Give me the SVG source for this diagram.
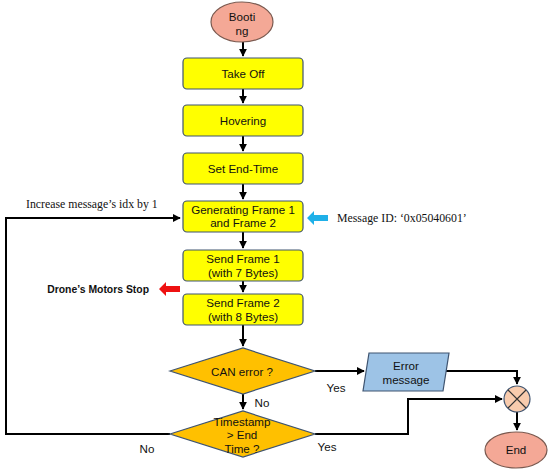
<svg xmlns="http://www.w3.org/2000/svg" width="550" height="474" viewBox="0 0 550 474">
<defs>
<marker id="ah" viewBox="0 0 10 10" refX="9" refY="5" markerWidth="4" markerHeight="4" orient="auto" markerUnits="strokeWidth">
<path d="M0,0 L10,5 L0,10 z" fill="#000"/>
</marker>
<style>
.box{fill:#FFFF00;stroke:#3F5470;stroke-width:1.2}
.dia{fill:#FFC000;stroke:#3F5470;stroke-width:1.2}
.term{fill:#F4A896;stroke:#7A5A50;stroke-width:1.2}
.t{font-family:"Liberation Sans",Arial,sans-serif;font-size:11.6px;fill:#111;text-anchor:middle}
.s{font-family:"Liberation Serif","Times New Roman",serif;font-size:11.8px;fill:#111}
.c{fill:none;stroke:#000;stroke-width:2}
</style>
</defs>
<rect width="550" height="474" fill="#fff"/>
<g id="connectors">
<path class="c" d="M243,42 V56" marker-end="url(#ah)"/>
<path class="c" d="M243,89 V103" marker-end="url(#ah)"/>
<path class="c" d="M243,136 V151" marker-end="url(#ah)"/>
<path class="c" d="M243,184 V199" marker-end="url(#ah)"/>
<path class="c" d="M243,232 V248" marker-end="url(#ah)"/>
<path class="c" d="M243,281 V292" marker-end="url(#ah)"/>
<path class="c" d="M243,325 V346" marker-end="url(#ah)"/>
<path class="c" d="M243,394 V409" marker-end="url(#ah)"/>
<path class="c" d="M315,371 H364" marker-end="url(#ah)"/>
<path class="c" d="M443,371 H517 V384" marker-end="url(#ah)"/>
<path class="c" d="M315,434 H408 V399 H502" marker-end="url(#ah)"/>
<path class="c" d="M517,412 V430" marker-end="url(#ah)"/>
<path class="c" d="M170,434 H6 V218 H180" marker-end="url(#ah)"/>
</g>
<g id="booting"><ellipse class="term" cx="242" cy="22" rx="31" ry="20"/><text class="t" x="242" y="21">Booti</text><text class="t" x="242" y="35">ng</text></g>
<g id="takeoff"><rect class="box" x="183" y="58" width="120" height="31" rx="4"/><text class="t" x="243" y="78">Take Off</text></g>
<g id="hovering"><rect class="box" x="183" y="105" width="120" height="31" rx="4"/><text class="t" x="243" y="125">Hovering</text></g>
<g id="setend"><rect class="box" x="183" y="153" width="120" height="31" rx="4"/><text class="t" x="243" y="173">Set End-Time</text></g>
<g id="generating"><rect class="box" x="183" y="201" width="120" height="31" rx="4"/><text class="t" x="243" y="214">Generating Frame 1</text><text class="t" x="243" y="227">and Frame 2</text></g>
<g id="send1"><rect class="box" x="183" y="250" width="120" height="31" rx="4"/><text class="t" x="243" y="263">Send Frame 1</text><text class="t" x="243" y="277">(with 7 Bytes)</text></g>
<g id="send2"><rect class="box" x="183" y="294" width="120" height="31" rx="4"/><text class="t" x="243" y="307">Send Frame 2</text><text class="t" x="243" y="321">(with 8 Bytes)</text></g>
<g id="canerror"><polygon class="dia" points="170,371 243,348 315,371 243,394"/><text class="t" x="242" y="376">CAN error ?</text></g>
<g id="timestamp"><polygon class="dia" points="170,434 243,411 315,434 243,457"/><text class="t" x="242" y="426">Timestamp</text><text class="t" x="242" y="439">&gt; End</text><text class="t" x="242" y="453">Time ?</text></g>
<g id="errormsg"><polygon points="369,353 449,353 443,391 363,391" fill="#9DC3E6" stroke="#3F5470" stroke-width="1.2"/><text class="t" x="406" y="370">Error</text><text class="t" x="406" y="384">message</text></g>
<g id="merge"><circle cx="517" cy="399" r="13" fill="#F8CBAD" stroke="#3F5470" stroke-width="1.2"/><path d="M508,390 L526,408 M526,390 L508,408" stroke="#333" stroke-width="1.2"/></g>
<g id="end"><ellipse class="term" cx="516" cy="450" rx="31" ry="18"/><text class="t" x="516" y="454">End</text></g>
<g id="labels">
<text class="t" x="262" y="407">No</text>
<text class="t" x="336" y="392">Yes</text>
<text class="t" x="327" y="451">Yes</text>
<text class="t" x="147" y="453">No</text>
<text class="s" x="26" y="208">Increase message’s idx by 1</text>
<text class="s" x="337" y="222">Message ID: ‘0x05040601’</text>
<text x="149" y="293" font-family="'Liberation Sans',Arial,sans-serif" font-size="10.4px" font-weight="bold" text-anchor="end" fill="#111">Drone’s Motors Stop</text>
<polygon points="307,218 314,211 314,215 328,215 328,221 314,221 314,225" fill="#1FB0E8"/>
<polygon points="159,289 166,282 166,286 180,286 180,292 166,292 166,296" fill="#EE1111"/>
</g>
</svg>
